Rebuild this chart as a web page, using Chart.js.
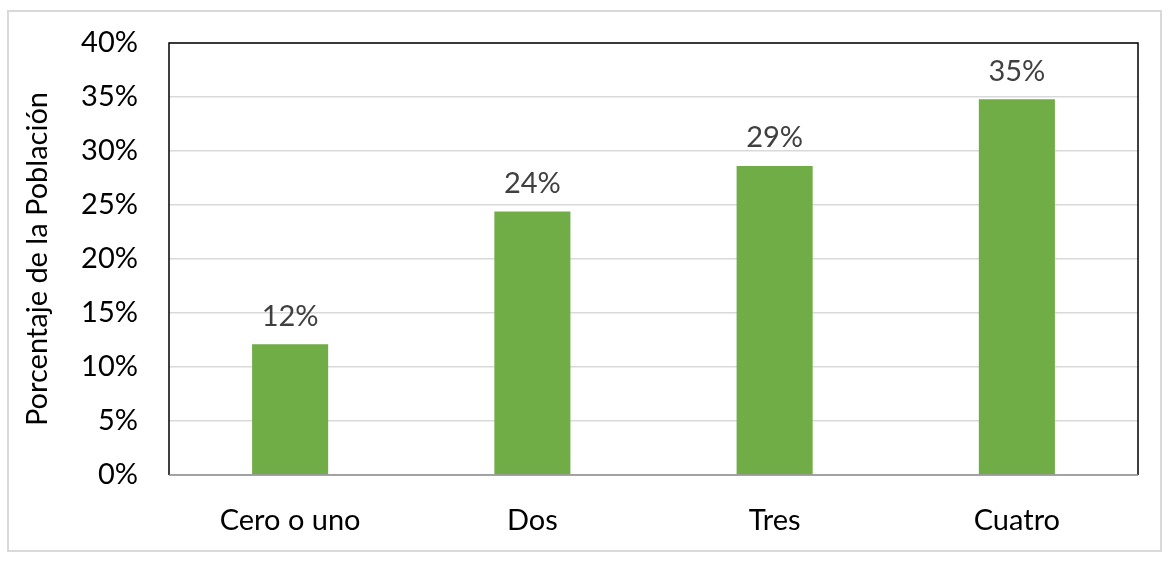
<!DOCTYPE html>
<html lang="es">
    <head>
        <meta charset="UTF-8">
        <title>Porcentaje de la Población</title>
        <style>
            html, body { margin: 0; padding: 0; background: #fff; }
            #chartContainer { position: relative; width: 1170px; height: 561px; }
        </style>
    </head>
<body>
<div id="chartContainer">
    <canvas id="barChart" width="1170" height="561"></canvas>
</div>

<script src="https://cdn.jsdelivr.net/npm/chart.js"></script>
<script>
// datos
const categorias = ['Cero o uno', 'Dos', 'Tres', 'Cuatro'];
const porcentajes = [12.1, 24.4, 28.6, 34.8];
const ticksY = [0, 5, 10, 15, 20, 25, 30, 35, 40];

const fuente = 'Lato, "Open Sans", sans-serif';

// etiquetas encima de cada barra + marco del área y del gráfico
const etiquetasPlugin = {
    id: 'etiquetas',
    afterDatasetsDraw(chart) {
        const ctx = chart.ctx;
        const area = chart.chartArea;
        ctx.save();

        // marco del área de trazado
        ctx.strokeStyle = '#000';
        ctx.lineWidth = 1.5;
        ctx.beginPath();
        ctx.moveTo(area.left, area.bottom);
        ctx.lineTo(area.left, area.top);
        ctx.lineTo(area.right, area.top);
        ctx.lineTo(area.right, area.bottom);
        ctx.stroke();
        ctx.strokeStyle = '#8c8c8c';
        ctx.beginPath();
        ctx.moveTo(area.left, area.bottom);
        ctx.lineTo(area.right, area.bottom);
        ctx.stroke();

        // valores
        ctx.fillStyle = '#404040';
        ctx.font = '29px ' + fuente;
        ctx.textAlign = 'center';
        ctx.textBaseline = 'middle';
        chart.getDatasetMeta(0).data.forEach((bar, i) => {
            ctx.fillText(Math.round(porcentajes[i]) + '%', bar.x, bar.y - 28);
        });

        // borde exterior
        ctx.strokeStyle = '#d9d9d9';
        ctx.lineWidth = 2;
        ctx.strokeRect(8, 11, 1153, 540);
        ctx.restore();
    }
};

const ctx = document.getElementById('barChart').getContext('2d');
const chart = new Chart(ctx, {
    type: 'bar',
    data: {
        labels: categorias,
        datasets: [{
            data: porcentajes,
            backgroundColor: '#70ad47',
            borderWidth: 0,
            categoryPercentage: 1,
            barPercentage: 0.314
        }]
    },
    options: {
        responsive: false,
        animation: false,
        layout: { padding: { top: 43, right: 32, left: 0, bottom: 0 } },
        plugins: {
            legend: { display: false },
            tooltip: { enabled: false }
        },
        scales: {
            x: {
                grid: { display: false, drawTicks: false },
                border: { display: false },
                ticks: { color: '#000', padding: 28, font: { family: fuente, size: 29 } },
                afterFit(scale) { scale.height = 86; }
            },
            y: {
                min: 0,
                max: 40,
                afterBuildTicks(scale) { scale.ticks = ticksY.map(v => ({ value: v })); },
                grid: { color: '#d9d9d9', lineWidth: 1.5, drawTicks: false },
                border: { display: false },
                ticks: {
                    color: '#000',
                    padding: 31,
                    font: { family: fuente, size: 29 },
                    callback: v => v + '%'
                },
                title: {
                    display: true,
                    text: 'Porcentaje de la Población',
                    color: '#000',
                    padding: { top: 20, bottom: 0 },
                    font: { family: fuente, size: 29 }
                },
                afterFit(scale) {
                    scale.width = 169;
                    scale.paddingTop = 0;
                    scale.paddingBottom = 0;
                }
            }
        }
    },
    plugins: [etiquetasPlugin]
});
</script>
</body>
</html>
